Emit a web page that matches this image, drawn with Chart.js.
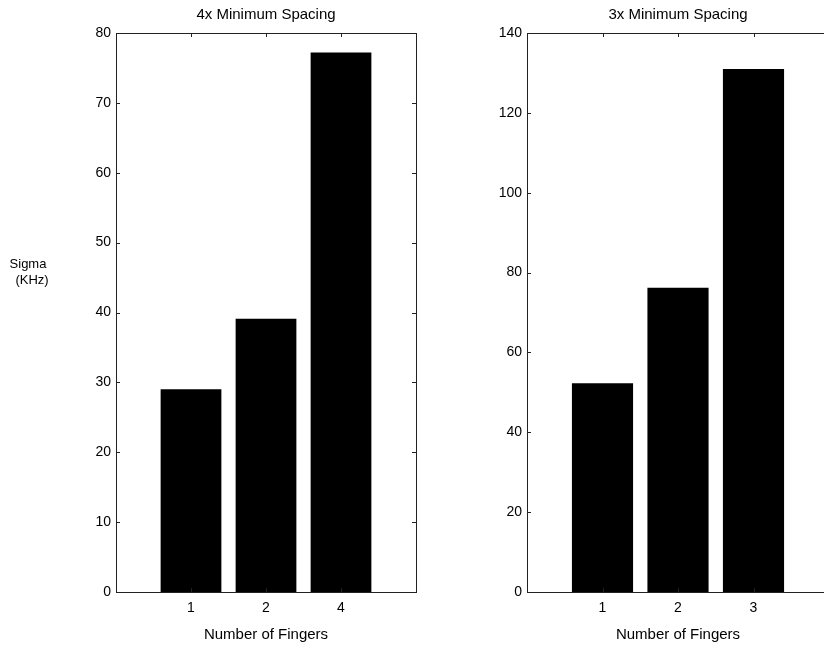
<!DOCTYPE html>
<html>
<head>
<meta charset="utf-8">
<title>Sigma vs Number of Fingers</title>
<script src="https://cdn.jsdelivr.net/npm/chart.js@4.4.0/dist/chart.umd.min.js"></script>
<style>
  html, body { margin: 0; padding: 0; background: #fff; overflow: hidden; }
  body { width: 824px; height: 648px; position: relative; }
  .panel { position: absolute; top: 0; }
  #leftPanel { left: 0; }
  #rightPanel { left: 411px; }
</style>
</head>
<body>
<div class="panel" id="leftPanel"><canvas id="chartLeft" width="440" height="648"></canvas></div>
<div class="panel" id="rightPanel"><canvas id="chartRight" width="440" height="648"></canvas></div>
<script>
// Data
const leftTitle = "4x Minimum Spacing";
const leftFingers = ["1", "2", "4"];
const leftSigma = [29, 39.1, 77.2];

const rightTitle = "3x Minimum Spacing";
const rightFingers = ["1", "2", "3"];
const rightSigma = [52.3, 76.2, 131];

const xTitle = "Number of Fingers";
const yTitle = ["Sigma", "(KHz)"];

Chart.defaults.font.family = '"Liberation Sans", Arial, Helvetica, sans-serif';
Chart.defaults.font.size = 14;
Chart.defaults.color = "#000";

// Matlab-style box with inward tick marks on all four sides
const frameTicks = {
  id: "frameTicks",
  afterDatasetsDraw(chart) {
    const { ctx, chartArea: a, scales } = chart;
    const x = scales.x, y = scales.y;
    const len = 4;
    ctx.save();
    ctx.strokeStyle = "#222";
    ctx.lineWidth = 1;
    ctx.strokeRect(a.left + 0.5, a.top + 0.5, a.right - a.left, a.bottom - a.top);
    ctx.beginPath();
    x.ticks.forEach((t) => {
      if (t.value <= x.min || t.value >= x.max) return;
      const px = Math.round(x.getPixelForValue(t.value)) + 0.5;
      ctx.moveTo(px, a.top);
      ctx.lineTo(px, a.top + len);
      ctx.moveTo(px, a.bottom);
      ctx.lineTo(px, a.bottom - len);
    });
    y.ticks.forEach((t) => {
      const py = Math.round(y.getPixelForValue(t.value)) + 0.5;
      ctx.moveTo(a.left, py);
      ctx.lineTo(a.left + len, py);
      ctx.moveTo(a.right, py);
      ctx.lineTo(a.right - len, py);
    });
    ctx.stroke();
    ctx.restore();
  },
};

// horizontal y label, only on the left panel
const sideLabel = {
  id: "sideLabel",
  afterDraw(chart, args, opts) {
    if (!opts.lines) return;
    const ctx = chart.ctx;
    ctx.save();
    ctx.font = '13px "Liberation Sans", Arial, Helvetica, sans-serif';
    ctx.fillStyle = "#000";
    ctx.textAlign = "center";
    ctx.textBaseline = "middle";
    opts.lines.forEach((line, i) => ctx.fillText(line, opts.x + (i ? 4 : 0), opts.y + i * 16));
    ctx.restore();
  },
};

function makeChart(canvasId, title, fingers, sigma, yMax, yStep, rightPad, label) {
  const points = sigma.map((v, i) => ({ x: i + 1, y: v }));
  return new Chart(document.getElementById(canvasId), {
    type: "bar",
    data: {
      datasets: [
        {
          data: points,
          backgroundColor: "#000",
          borderWidth: 0,
          categoryPercentage: 1,
          barPercentage: 0.81,
        },
      ],
    },
    options: {
      responsive: false,
      animation: false,
      layout: { padding: { left: 0, right: rightPad, top: 0, bottom: 0 } },
      plugins: {
        legend: { display: false },
        tooltip: { enabled: false },
        title: {
          display: true,
          fullSize: false,
          text: title,
          font: { size: 15, weight: "normal" },
          color: "#000",
          padding: { top: 6, bottom: 9 },
        },
        sideLabel: label || {},
      },
      scales: {
        x: {
          type: "linear",
          min: 0,
          max: fingers.length + 1,
          offset: false,
          grid: { display: false, drawTicks: false, offset: false },
          border: { display: false },
          ticks: {
            stepSize: 1,
            autoSkip: false,
            maxRotation: 0,
            padding: 8,
            callback: (v) => fingers[v - 1] || "",
          },
          title: {
            display: true,
            text: xTitle,
            font: { size: 15 },
            padding: { top: 0, bottom: 4 },
          },
          afterFit: (scale) => { scale.height = 56; },
        },
        y: {
          min: 0,
          max: yMax,
          grid: { display: false, drawTicks: false },
          border: { display: false },
          ticks: { stepSize: yStep, padding: 5 },
          afterFit: (scale) => { scale.width = 116; },
        },
      },
    },
    plugins: [frameTicks, sideLabel],
  });
}

makeChart("chartLeft", leftTitle, leftFingers, leftSigma, 80, 10, 24, { lines: yTitle, x: 28, y: 264 });
makeChart("chartRight", rightTitle, rightFingers, rightSigma, 140, 20, 22, null);
</script>
</body>
</html>
